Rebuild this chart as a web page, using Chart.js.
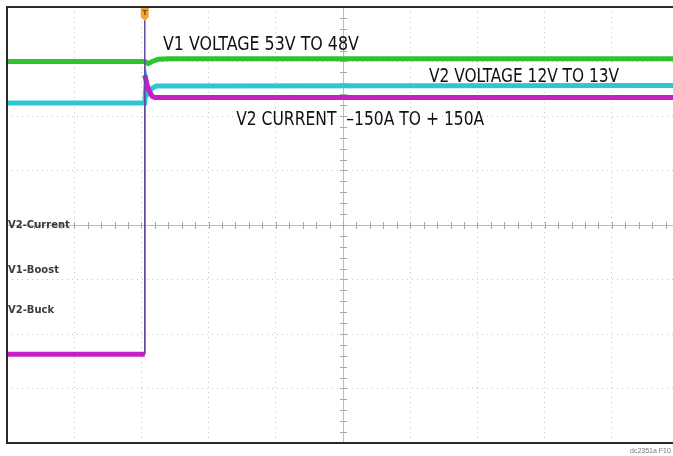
<!DOCTYPE html>
<html>
<head>
<meta charset="utf-8">
<script src="https://cdn.jsdelivr.net/npm/chart.js@4.4.1/dist/chart.umd.min.js"></script>
<style>
  html, body { margin: 0; padding: 0; background: #fff; overflow: hidden; }
  #wrap { width: 673px; height: 456px; position: relative; }
</style>
</head>
<body>
<div id="wrap"><canvas id="scope" width="673" height="456"></canvas></div>
<script>
// ===== SCOPE CAPTURE (units: screen divisions, x from left edge, y from centre) =====

const greenX = [0, 2.05, 2.1, 2.16, 2.25, 2.4, 9.91];
const greenY = [3.00, 3.00, 2.96, 3.00, 3.04, 3.05, 3.05];

const cyanX = [0, 2.05, 2.07, 2.1, 2.15, 2.22, 9.91];
const cyanY = [2.24, 2.24, 2.62, 2.42, 2.50, 2.55, 2.56];

const magentaX = [0, 2.05, 2.05, 2.1, 2.16, 2.2, 9.91];
const magentaY = [-2.37, -2.37, 2.75, 2.5, 2.36, 2.34, 2.34];

const triggerX = [2.05, 2.05];
const triggerY = [3.92, -2.37];

const annotations = ['V1 VOLTAGE 53V TO 48V', 'V2 VOLTAGE 12V TO 13V', 'V2 CURRENT  \u2013150A TO + 150A'];
const channelLabels = ['V2-Current', 'V1-Boost', 'V2-Buck'];
const channelLevels = [0, -0.84, -1.56];
const figureTag = 'dc2351a F10';

const X_MAX = 9.91;

function pts(xs, ys) {
  return xs.map((x, i) => ({ x, y: ys[i] }));
}

// fast edges are drawn thin on the scope
const thinEdge = { borderWidth: c => (c.p0.parsed.x === c.p1.parsed.x ? 1.5 : undefined) };

const scopeDecor = {
  id: 'scopeDecor',
  beforeDatasetsDraw(chart) {
    const { ctx, chartArea: a, scales: { x, y } } = chart;
    ctx.save();
    // centre axes with minor ticks
    const cx = x.getPixelForValue(5);
    const cy = y.getPixelForValue(0);
    ctx.strokeStyle = '#bdbdbd';
    ctx.lineWidth = 1;
    ctx.beginPath();
    ctx.moveTo(a.left, cy + 0.5); ctx.lineTo(a.right, cy + 0.5);
    ctx.moveTo(cx + 0.5, a.top); ctx.lineTo(cx + 0.5, a.bottom);
    ctx.stroke();
    ctx.strokeStyle = '#a8a8a8';
    ctx.beginPath();
    for (let v = 0; v <= X_MAX; v += 0.2) {
      const px = Math.round(x.getPixelForValue(v)) + 0.5;
      ctx.moveTo(px, cy - 3); ctx.lineTo(px, cy + 4);
    }
    for (let v = -4; v <= 4; v += 0.2) {
      const py = Math.round(y.getPixelForValue(v)) + 0.5;
      ctx.moveTo(cx - 3, py); ctx.lineTo(cx + 4, py);
    }
    ctx.stroke();
    ctx.restore();
  },
  afterDatasetsDraw(chart) {
    const { ctx, chartArea: a, scales: { x, y } } = chart;
    ctx.save();
    // frame
    ctx.strokeStyle = '#2a2a2a';
    ctx.lineWidth = 2;
    ctx.beginPath();
    ctx.moveTo(a.right + 2, a.top);
    ctx.lineTo(a.left, a.top);
    ctx.lineTo(a.left, a.bottom);
    ctx.lineTo(a.right + 2, a.bottom);
    ctx.stroke();

    // trigger marker
    const tx = x.getPixelForValue(triggerX[0]);
    ctx.fillStyle = '#f2a530';
    ctx.beginPath();
    ctx.moveTo(tx - 4, a.top + 1);
    ctx.lineTo(tx + 4, a.top + 1);
    ctx.lineTo(tx + 4, a.top + 10);
    ctx.lineTo(tx, a.top + 14);
    ctx.lineTo(tx - 4, a.top + 10);
    ctx.closePath();
    ctx.fill();
    ctx.fillStyle = '#7a4a00';
    ctx.font = 'bold 7px "DejaVu Sans"';
    ctx.textAlign = 'center';
    ctx.textBaseline = 'middle';
    ctx.fillText('T', tx, a.top + 6);

    // channel labels
    ctx.fillStyle = '#3a3a3a';
    ctx.font = 'bold 10px "DejaVu Sans"';
    ctx.textAlign = 'left';
    channelLabels.forEach((t, i) => {
      ctx.fillText(t, a.left + 1, y.getPixelForValue(channelLevels[i]));
    });

    // annotations
    ctx.fillStyle = '#111';
    ctx.font = '20px "Liberation Sans Narrow", "DejaVu Sans Condensed", "Liberation Sans"';
    ctx.textBaseline = 'alphabetic';
    ctx.fillText(annotations[0], x.getPixelForValue(2.32), y.getPixelForValue(3.21), 196);
    ctx.fillText(annotations[1], x.getPixelForValue(6.28), y.getPixelForValue(2.62), 190);
    ctx.fillText(annotations[2], x.getPixelForValue(3.41), y.getPixelForValue(1.83), 248);

    // figure tag
    ctx.fillStyle = '#777';
    ctx.font = '7px "Liberation Sans Narrow", "Liberation Sans"';
    ctx.fillText(figureTag, 630, 453);
    ctx.restore();
  }
};

// Chart.js paints dataset 0 last, so the list runs top layer first
const ctx = document.getElementById('scope').getContext('2d');
new Chart(ctx, {
  type: 'line',
  data: {
    datasets: [
      {
        label: 'Trigger',
        data: pts(triggerX, triggerY),
        borderColor: '#634aa3',
        borderWidth: 1.5,
        pointRadius: 0
      },
      {
        label: 'V1-Boost',
        data: pts(greenX, greenY),
        borderColor: '#2fc42f',
        borderWidth: 5,
        pointRadius: 0
      },
      {
        label: 'V2-Current',
        data: pts(magentaX, magentaY),
        borderColor: '#c61fc6',
        borderWidth: 5,
        pointRadius: 0,
        segment: thinEdge
      },
      {
        label: 'V2-Buck',
        data: pts(cyanX, cyanY),
        borderColor: '#2ec6d2',
        borderWidth: 5,
        pointRadius: 0
      }
    ]
  },
  options: {
    responsive: false,
    animation: false,
    layout: { padding: { left: 7, top: 7, right: 0, bottom: 13 } },
    plugins: {
      legend: { display: false },
      tooltip: { enabled: false }
    },
    scales: {
      x: {
        type: 'linear',
        min: 0,
        max: X_MAX,
        ticks: { display: false, stepSize: 1, includeBounds: false },
        grid: { color: '#c4c4c4', drawTicks: false, lineWidth: 1 },
        border: { display: false, dash: [1, 4] }
      },
      y: {
        min: -4,
        max: 4,
        ticks: { display: false, stepSize: 1 },
        grid: { color: '#c4c4c4', drawTicks: false, lineWidth: 1 },
        border: { display: false, dash: [1, 4] }
      }
    }
  },
  plugins: [scopeDecor]
});
</script>
</body>
</html>
